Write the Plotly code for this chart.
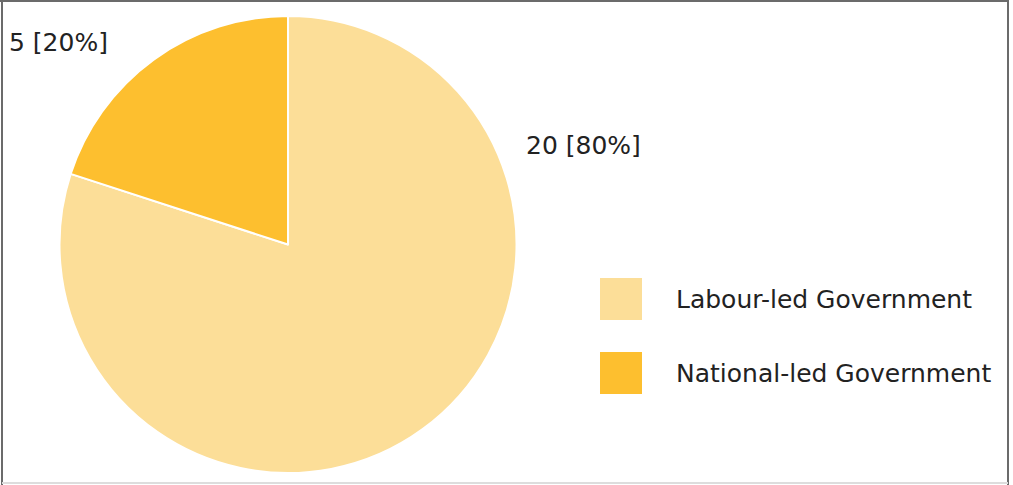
import plotly.graph_objects as go

categories = ["Labour-led Government", "National-led Government"]
values = [20, 5]
colors = ["#FCDE98", "#FDBF2F"]

W, H = 1013, 485
FONT = "DejaVu Sans"
FS = 25
total = sum(values)

fig = go.Figure(go.Pie(
    labels=categories,
    values=values,
    sort=False,
    direction="clockwise",
    rotation=0,
    marker=dict(colors=colors, line=dict(color="white", width=2)),
    textinfo="none",
    hoverinfo="label+value+percent",
    showlegend=False,
    domain=dict(x=[59 / W, 517 / W], y=[12 / H, 469 / H]),
))

# slice labels
label_pos = [(524 / W, 1 - 145 / H), (7 / W, 1 - 42 / H)]
annotations = []
for v, (ax, ay) in zip(values, label_pos):
    annotations.append(dict(
        x=ax, y=ay, xref="paper", yref="paper", xanchor="left", yanchor="middle",
        text=f"{v} [{round(100 * v / total)}%]", showarrow=False,
        font=dict(family=FONT, size=FS, color="#222222"),
    ))

# custom legend
shapes = []
legend_y = [299, 373]
for cat, col, ly in zip(categories, colors, legend_y):
    shapes.append(dict(type="rect", xref="paper", yref="paper",
                       x0=600 / W, x1=642 / W, y0=1 - (ly + 21) / H, y1=1 - (ly - 21) / H,
                       fillcolor=col, line=dict(width=0)))
    annotations.append(dict(
        x=674 / W, y=1 - ly / H, xref="paper", yref="paper", xanchor="left", yanchor="middle",
        text=cat, showarrow=False,
        font=dict(family=FONT, size=FS, color="#222222"),
    ))

# border
shapes += [
    dict(type="line", xref="paper", yref="paper", x0=2 / W, x1=2 / W, y0=0, y1=1, line=dict(color="#6b6b6b", width=2)),
    dict(type="line", xref="paper", yref="paper", x0=0, x1=1009 / W, y0=1 - 1 / H, y1=1 - 1 / H, line=dict(color="#6b6b6b", width=2)),
    dict(type="line", xref="paper", yref="paper", x0=1008 / W, x1=1008 / W, y0=0, y1=1, line=dict(color="#6b6b6b", width=2)),
    dict(type="line", xref="paper", yref="paper", x0=2 / W, x1=1008 / W, y0=1 - 483 / H, y1=1 - 483 / H, line=dict(color="#dddddd", width=2)),
]

fig.update_layout(
    width=W, height=H,
    margin=dict(l=0, r=0, t=0, b=0),
    paper_bgcolor="white",
    plot_bgcolor="white",
    annotations=annotations,
    shapes=shapes,
)

fig.write_html(
    "out.html",
    config={"displayModeBar": False},
    post_script="document.body.style.margin='0px';document.body.style.overflow='hidden';",
)
